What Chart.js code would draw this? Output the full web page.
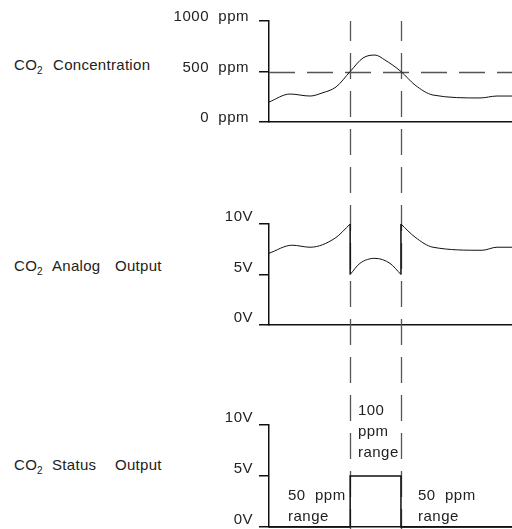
<!DOCTYPE html>
<html>
<head>
<meta charset="utf-8">
<title>CO2 outputs</title>
<script src="https://cdn.jsdelivr.net/npm/chart.js@4.4.1/dist/chart.umd.min.js"></script>
<style>
    html, body { margin: 0; padding: 0; background: #fff; }
    #wrap {
        position: relative;
        width: 512px;
        height: 529px;
        overflow: hidden;
        color: #222;
        font-family: 'Liberation Sans', 'DejaVu Sans', sans-serif;
    }
    .panel { position: absolute; left: 0; }
    .label {
        position: absolute;
        left: 14px;
        height: 20px;
        line-height: 20px;
        font-size: 15px;
        letter-spacing: 0.3px;
        white-space: nowrap;
    }
    .label sub { font-size: 10px; vertical-align: -4px; line-height: 0; }
    .label .w { position: absolute; top: 0; }
</style>
</head>
<body>
<div id="wrap">
    <div class="label" style="top:55px">CO<sub>2</sub><span class="w" style="left:39px">Concentration</span></div>
    <div class="label" style="top:256px">CO<sub>2</sub><span class="w" style="left:38px">Analog</span><span class="w" style="left:101px">Output</span></div>
    <div class="label" style="top:455px">CO<sub>2</sub><span class="w" style="left:38px">Status</span><span class="w" style="left:101px">Output</span></div>

    <canvas id="conc-chart" class="panel" width="512" height="170" style="top:0"></canvas>
    <canvas id="analog-chart" class="panel" width="512" height="205" style="top:170px"></canvas>
    <canvas id="status-chart" class="panel" width="512" height="154" style="top:375px"></canvas>
</div>

<script>
    // Time runs 0..100 across the plot, the two dashed lines mark when CO2 crosses 500 ppm
    const eventTimes = [33.4, 54.3];

    // CO2 concentration (ppm)
    const concTime = [0, 8.6, 16.9, 21.8, 27.6, 33.4, 38.7, 43.6, 47.7, 54.3, 60.1, 67.5, 86.8, 93.8, 100];
    const concPpm = [198, 277, 257, 287, 347, 500, 634, 663, 614, 500, 366, 267, 238, 257, 257];
    const concTicks = [0, 500, 1000];
    const concThreshold = 500;

    // Analog output (V), split where the range switches
    const analogTimeA = [0, 9.5, 16.9, 27.2, 33.4];
    const analogVoltA = [7.1, 7.9, 7.7, 8.6, 10];
    const analogTimeB = [33.4, 37.4, 43.6, 49.8, 54.3];
    const analogVoltB = [5, 6.1, 6.6, 6.1, 5];
    const analogTimeC = [54.3, 60.1, 67.5, 87.7, 93.8, 100];
    const analogVoltC = [10, 8.7, 7.7, 7.4, 7.7, 7.7];

    // Status output (V)
    const statusTime = [0, 33.4, 54.3, 100];
    const statusVolt = [0, 5, 0, 0];
    const voltTicks = [0, 5, 10];
    const statusNotes = [['50  ppm', 'range'], ['100', 'ppm', 'range'], ['50  ppm', 'range']];

    const FONT = "'Liberation Sans', 'DejaVu Sans', sans-serif";
    const INK = '#111';
    const AXIS_X = 269;

    function points(xs, ys) {
        return xs.map((x, i) => ({ x: x, y: ys[i] }));
    }

    function curve(data, extra) {
        return Object.assign({
            data: data,
            borderColor: INK,
            borderWidth: 1,
            pointRadius: 0,
            fill: false,
            cubicInterpolationMode: 'monotone',
            clip: false
        }, extra || {});
    }

    /**
     * Dashed guide lines: the two event times (vertical) and an optional threshold
     */
    const guidePlugin = {
        id: 'guides',
        beforeDraw(chart) {
            chart.ctx.letterSpacing = '0.5px';
        },
        beforeDatasetsDraw(chart, args, opts) {
            const { ctx, chartArea } = chart;
            const xs = chart.scales.x;
            const ys = chart.scales.y;
            ctx.save();
            ctx.strokeStyle = '#555';
            ctx.lineWidth = 1.3;
            ctx.setLineDash([26, 12]);
            eventTimes.forEach(t => {
                const px = Math.round(xs.getPixelForValue(t)) + 0.5;
                const y0 = opts.fromTop ? chartArea.top : 0;
                ctx.lineDashOffset = (((opts.pageTop + y0 - 15) % 38) + 38) % 38;
                ctx.beginPath();
                ctx.moveTo(px, y0);
                ctx.lineTo(px, chart.height);
                ctx.stroke();
            });
            if (opts.threshold != null) {
                const py = Math.round(ys.getPixelForValue(opts.threshold)) + 0.5;
                ctx.lineDashOffset = 0;
                ctx.beginPath();
                ctx.moveTo(chartArea.left, py);
                ctx.lineTo(chartArea.right, py);
                ctx.stroke();
            }
            ctx.restore();
        },
        afterDatasetsDraw(chart, args, opts) {
            if (!opts.notes) {
                return;
            }
            const { ctx } = chart;
            const xs = chart.scales.x;
            const ys = chart.scales.y;
            ctx.save();
            ctx.fillStyle = '#222';
            ctx.font = '15px ' + FONT;
            ctx.textAlign = 'left';
            ctx.textBaseline = 'middle';
            opts.notes.forEach((anchor, i) => {
                const px = xs.getPixelForValue(anchor.t);
                const py = ys.getPixelForValue(anchor.v);
                statusNotes[i].forEach((line, j) => {
                    ctx.fillText(line, px, py + j * 21);
                });
            });
            ctx.restore();
        }
    };

    function buildOptions(cfg) {
        return {
            responsive: false,
            animation: false,
            events: [],
            layout: { padding: { top: cfg.top, left: 0, right: 0, bottom: 0 } },
            plugins: {
                legend: { display: false },
                tooltip: { enabled: false },
                guides: {
                    pageTop: cfg.pageTop,
                    fromTop: cfg.fromTop,
                    threshold: cfg.threshold,
                    notes: cfg.notes
                }
            },
            scales: {
                x: {
                    type: 'linear',
                    min: 0,
                    max: 100,
                    ticks: { display: false },
                    grid: { drawOnChartArea: false, drawTicks: false },
                    border: { color: INK, width: 1.5 },
                    afterFit: s => { s.height = cfg.bottom; }
                },
                y: {
                    type: 'linear',
                    min: cfg.ticks[0],
                    max: cfg.ticks[cfg.ticks.length - 1],
                    afterBuildTicks: s => { s.ticks = cfg.ticks.map(v => ({ value: v })); },
                    afterFit: s => {
                        s.width = AXIS_X;
                        s.paddingTop = 0;
                        s.paddingBottom = 0;
                    },
                    ticks: {
                        callback: cfg.label,
                        padding: cfg.pad,
                        labelOffset: cfg.lift,
                        color: '#222',
                        font: { family: FONT, size: 15 }
                    },
                    grid: { drawOnChartArea: false, tickLength: 10, color: INK, lineWidth: 1.5 },
                    border: { color: INK, width: 1.5 }
                }
            }
        };
    }

    new Chart(document.getElementById('conc-chart'), {
        type: 'line',
        data: { datasets: [curve(points(concTime, concPpm))] },
        options: buildOptions({
            top: 21, bottom: 48, pageTop: 0, fromTop: true,
            threshold: concThreshold, ticks: concTicks,
            label: v => v + '  ppm', pad: 10, lift: -4
        }),
        plugins: [guidePlugin]
    });

    const edges = [
        { x: eventTimes[0], y: analogVoltA[analogVoltA.length - 1] },
        { x: eventTimes[0], y: analogVoltB[0] },
        { x: 44, y: null },
        { x: eventTimes[1], y: analogVoltB[analogVoltB.length - 1] },
        { x: eventTimes[1], y: analogVoltC[0] }
    ];

    new Chart(document.getElementById('analog-chart'), {
        type: 'line',
        data: {
            datasets: [
                curve(points(analogTimeA, analogVoltA)),
                curve(points(analogTimeB, analogVoltB)),
                curve(points(analogTimeC, analogVoltC)),
                curve(edges, { cubicInterpolationMode: 'default', tension: 0, spanGaps: false, borderWidth: 1.5 })
            ]
        },
        options: buildOptions({
            top: 54, bottom: 50, pageTop: 170, fromTop: false,
            threshold: null, ticks: voltTicks,
            label: v => v + 'V', pad: 6, lift: -7
        }),
        plugins: [guidePlugin]
    });

    new Chart(document.getElementById('status-chart'), {
        type: 'line',
        data: {
            datasets: [
                curve(points(statusTime, statusVolt), { stepped: 'before', borderWidth: 1.5 })
            ]
        },
        options: buildOptions({
            top: 50, bottom: 2, pageTop: 375, fromTop: false,
            threshold: null, ticks: voltTicks,
            label: v => v + 'V', pad: 6, lift: -7,
            notes: [{ t: 7.8, v: 3.1 }, { t: 36.6, v: 11.4 }, { t: 61.3, v: 3.1 }]
        }),
        plugins: [guidePlugin]
    });
</script>
</body>
</html>
